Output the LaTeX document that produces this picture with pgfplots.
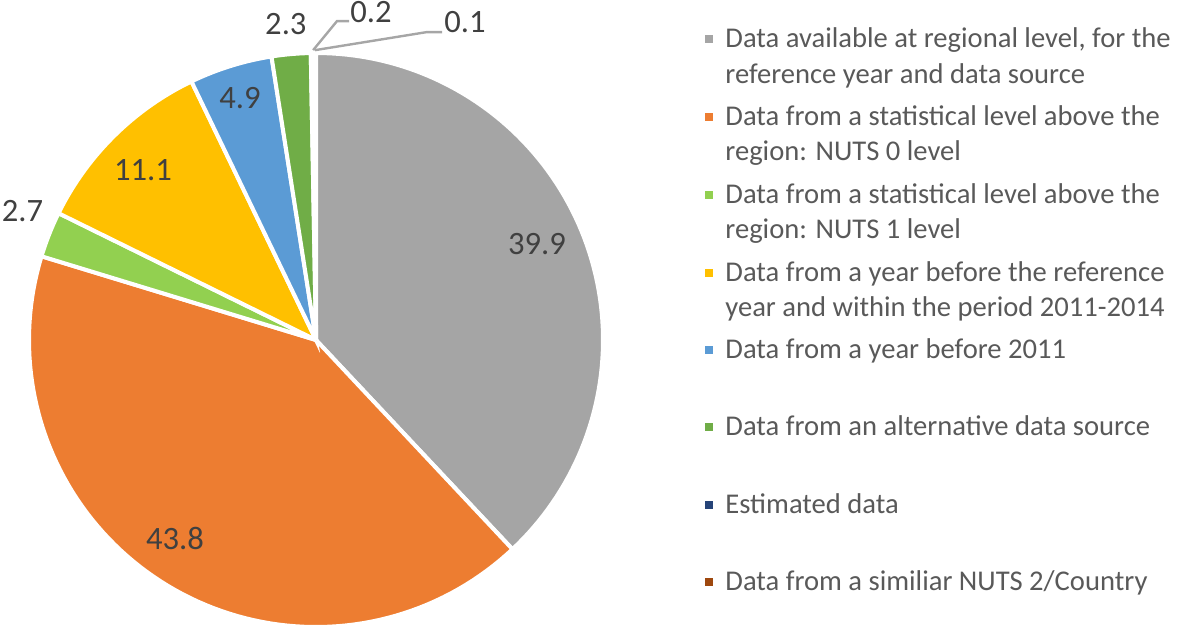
\documentclass[border=0pt]{standalone}
\usepackage{pgfplots}
\pgfplotsset{compat=1.18}
\usepackage{fontspec}
\setmainfont{Carlito}
\definecolor{cGray}{HTML}{A5A5A5}
\definecolor{cOrange}{HTML}{ED7D31}
\definecolor{cLGreen}{HTML}{92D050}
\definecolor{cYellow}{HTML}{FFC000}
\definecolor{cBlue}{HTML}{5B9BD5}
\definecolor{cGreen}{HTML}{70AD47}
\definecolor{cNavy}{HTML}{264478}
\definecolor{cDOrange}{HTML}{9E480E}
\definecolor{cLegText}{HTML}{595959}
\definecolor{cLabText}{HTML}{404040}
\definecolor{cLeader}{HTML}{A6A6A6}
\begin{document}
\begin{tikzpicture}[x=0.5pt,y=0.5pt]
\useasboundingbox (0,0) rectangle (1181,629);
% values (percent)
\def\vA{39.9}\def\vB{43.8}\def\vC{2.7}\def\vD{11.1}
\def\vE{4.9}\def\vF{2.3}\def\vG{0.2}\def\vH{0.1}
\pgfmathsetmacro\tot{\vA+\vB+\vC+\vD+\vE+\vF+\vG+\vH}
\pgfmathsetmacro\aA{90}
\pgfmathsetmacro\aB{\aA-\vA/\tot*360}
\pgfmathsetmacro\aC{\aB-\vB/\tot*360}
\pgfmathsetmacro\aD{\aC-\vC/\tot*360}
\pgfmathsetmacro\aE{\aD-\vD/\tot*360}
\pgfmathsetmacro\aF{\aE-\vE/\tot*360}
\pgfmathsetmacro\aG{\aF-\vF/\tot*360}
\pgfmathsetmacro\aH{\aG-\vG/\tot*360}
\pgfmathsetmacro\aI{\aH-\vH/\tot*360}
\begin{axis}[
  at={(158pt,144.5pt)}, anchor=center,
  width=287pt, height=287pt, scale only axis,
  xmin=-1, xmax=1, ymin=-1, ymax=1,
  hide axis, clip=false,
  every axis plot/.append style={draw=white, line width=2pt, samples=90},
  nodes={font=\fontsize{16.3}{19}\selectfont, text=cLabText}
]
\addplot[fill=cGray, domain=\aB:\aA] ({cos(x)},{sin(x)}) -- (axis cs:0,0) -- cycle;
\addplot[fill=cOrange, domain=\aC:\aB] ({cos(x)},{sin(x)}) -- (axis cs:0,0) -- cycle;
\addplot[fill=cLGreen, domain=\aD:\aC] ({cos(x)},{sin(x)}) -- (axis cs:0,0) -- cycle;
\addplot[fill=cYellow, domain=\aE:\aD] ({cos(x)},{sin(x)}) -- (axis cs:0,0) -- cycle;
\addplot[fill=cBlue, domain=\aF:\aE] ({cos(x)},{sin(x)}) -- (axis cs:0,0) -- cycle;
\addplot[fill=cGreen, domain=\aG:\aF] ({cos(x)},{sin(x)}) -- (axis cs:0,0) -- cycle;
\addplot[fill=cNavy, domain=\aH:\aG, samples=5] ({cos(x)},{sin(x)}) -- (axis cs:0,0) -- cycle;
\addplot[fill=cDOrange, domain=\aI:\aH, samples=5] ({cos(x)},{sin(x)}) -- (axis cs:0,0) -- cycle;
% leader lines
\addplot[draw=cLeader, line width=1.2pt, mark=none] coordinates {(-0.010,1.010) (0.073,1.111) (0.115,1.111)};
\addplot[draw=cLeader, line width=1.2pt, mark=none] coordinates {(-0.003,1.010) (0.387,1.073) (0.439,1.073)};
% data labels
\node at (axis cs:0.770,0.334) {39.9};
\node at (axis cs:-0.491,-0.693) {43.8};
\node[anchor=west, inner sep=0pt] at (axis cs:-1.096,0.449) {2.7};
\node at (axis cs:-0.603,0.592) {11.1};
\node at (axis cs:-0.265,0.843) {4.9};
\node at (axis cs:-0.105,1.101) {2.3};
\node at (axis cs:0.192,1.143) {0.2};
\node at (axis cs:0.519,1.108) {0.1};
\end{axis}
% legend
\begin{scope}[every node/.style={anchor=base west, inner sep=0pt, text=cLegText, font=\fontsize{14.3}{18}\selectfont}]
\fill[cGray] (705,586) rectangle (713,594);
\node at (725,582) {Data available at regional level, for the};
\node at (725,546) {reference year and data source};
\fill[cOrange] (705,508) rectangle (713,516);
\node at (725,504) {Data from a statistical level above the};
\node at (725,469) {region: NUTS 0 level};
\fill[cLGreen] (705,430) rectangle (713,438);
\node at (725,426) {Data from a statistical level above the};
\node at (725,391) {region: NUTS 1 level};
\fill[cYellow] (705,352) rectangle (713,360);
\node at (725,348) {Data from a year before the reference};
\node at (725,313) {year and within the period 2011-2014};
\fill[cBlue] (705,275) rectangle (713,283);
\node at (725,271) {Data from a year before 2011};
\fill[cGreen] (705,198) rectangle (713,206);
\node at (725,194) {Data from an alternative data source};
\fill[cNavy] (705,120) rectangle (713,128);
\node at (725,116) {Estimated data};
\fill[cDOrange] (705,43) rectangle (713,51);
\node at (725,39) {Data from a similiar NUTS 2/Country};
\end{scope}
\end{tikzpicture}
\end{document}
